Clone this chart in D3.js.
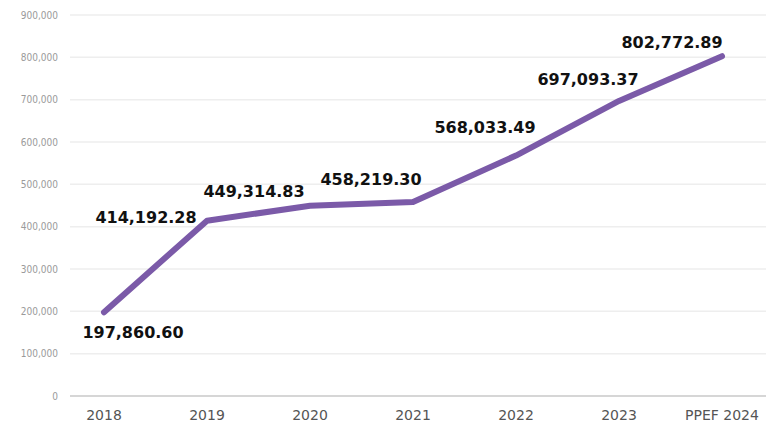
<!DOCTYPE html>
<html>
<head>
<meta charset="utf-8">
<script src="https://cdn.jsdelivr.net/npm/d3@7"></script>
<style>
  body { margin: 0; background: #fff; }
  svg { display: block; }
</style>
</head>
<body>
<svg id="chart" width="771" height="432"></svg>
<script>
// data
var years = ["2018", "2019", "2020", "2021", "2022", "2023", "PPEF 2024"];
var amounts = [197860.60, 414192.28, 449314.83, 458219.30, 568033.49, 697093.37, 802772.89];
var yTicks = [0, 100000, 200000, 300000, 400000, 500000, 600000, 700000, 800000, 900000];
// label offsets from each point (centre of text)
var labelDx = [29, -61, -56, -42, -31, -31, -50];
var labelDy = [20, -3, -14, -23, -28, -21, -14];

var svg = d3.select("#chart");

var x = d3.scalePoint().domain(years).range([104, 722]);
var y = d3.scaleLinear().domain([0, 900000]).range([396, 15]);

// gridlines
svg.append("g")
  .selectAll("line")
  .data(yTicks)
  .enter()
  .append("line")
  .attr("x1", 70)
  .attr("x2", 766)
  .attr("y1", function(d) { return y(d); })
  .attr("y2", function(d) { return y(d); })
  .style("stroke", function(d) { return d == 0 ? "#c8c8c8" : "#eeeeee"; })
  .style("stroke-width", 1.5);

// y labels
var fmt = d3.format(",");
svg.append("g")
  .selectAll("text")
  .data(yTicks)
  .enter()
  .append("text")
  .attr("x", 58)
  .attr("y", function(d) { return y(d); })
  .attr("dy", "0.35em")
  .attr("text-anchor", "end")
  .style("font-family", "'Liberation Sans Narrow', 'DejaVu Sans Condensed', sans-serif")
  .style("font-size", "10px")
  .style("fill", "#9a9a9a")
  .text(function(d) { return fmt(d); });

// x labels
svg.append("g")
  .selectAll("text")
  .data(years)
  .enter()
  .append("text")
  .attr("x", function(d) { return x(d); })
  .attr("y", 420)
  .attr("text-anchor", "middle")
  .style("font-family", "'DejaVu Sans', sans-serif")
  .style("font-size", "14px")
  .style("fill", "#555")
  .text(function(d) { return d; });

// line
var pts = years.map(function(d, i) { return {year: d, value: amounts[i], i: i}; });
var line = d3.line()
  .x(function(d) { return x(d.year); })
  .y(function(d) { return y(d.value); });

svg.append("path")
  .datum(pts)
  .attr("d", line)
  .style("fill", "none")
  .style("stroke", "#7b5aa8")
  .style("stroke-width", 6)
  .style("stroke-linejoin", "round")
  .style("stroke-linecap", "round");

// value labels
var fmt2 = d3.format(",.2f");
svg.append("g")
  .selectAll("text")
  .data(pts)
  .enter()
  .append("text")
  .attr("x", function(d) { return x(d.year) + labelDx[d.i]; })
  .attr("y", function(d) { return y(d.value) + labelDy[d.i]; })
  .attr("dy", "0.35em")
  .attr("text-anchor", "middle")
  .style("font-family", "'DejaVu Sans', sans-serif")
  .style("font-weight", "bold")
  .style("font-size", "16px")
  .style("fill", "#111")
  .text(function(d) { return fmt2(d.value); });
</script>
</body>
</html>
